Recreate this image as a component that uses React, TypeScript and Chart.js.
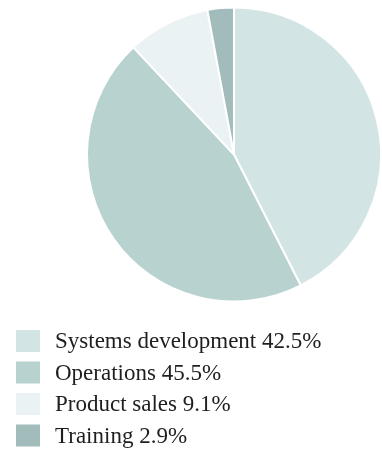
import React, { useEffect, useRef } from "react";
import { Chart, registerables } from "chart.js";

Chart.register(...registerables);

const categories = ["Systems development", "Operations", "Product sales", "Training"];
const shares = [42.5, 45.5, 9.1, 2.9];
const sliceColors = ["#d2e4e3", "#b8d2cf", "#ebf2f3", "#a2bcbc"];

const legendPlugin = {
  id: "sideLegend",
  afterDraw(chart: any) {
    const ctx = chart.ctx;
    const labels: string[] = chart.data.labels;
    const ds = chart.data.datasets[0];
    ctx.save();
    ctx.font = '23px "Liberation Serif", "Times New Roman", serif';
    ctx.textBaseline = "middle";
    ctx.textAlign = "left";
    labels.forEach((lab, i) => {
      const cy = 341 + i * 31.5;
      ctx.fillStyle = ds.backgroundColor[i];
      ctx.fillRect(16, cy - 11, 24, 22);
      ctx.fillStyle = "#1e1e1e";
      ctx.fillText(`${lab} ${ds.data[i].toFixed(1)}%`, 55, cy + 1);
    });
    ctx.restore();
  },
};

export default function App() {
  const ref = useRef<HTMLCanvasElement | null>(null);
  useEffect(() => {
    if (!ref.current) return;
    const chart = new Chart(ref.current, {
      type: "pie",
      data: {
        labels: categories,
        datasets: [
          {
            data: shares,
            backgroundColor: sliceColors,
            borderColor: "#ffffff",
            borderWidth: 2,
          },
        ],
      },
      options: {
        responsive: false,
        animation: false,
        layout: { padding: { left: 86, top: 5, right: -2, bottom: 149 } },
        plugins: {
          legend: { display: false },
          tooltip: { enabled: false },
        },
      },
      plugins: [legendPlugin],
    });
    return () => chart.destroy();
  }, []);
  return (
    <div style={{ position: "absolute", left: 0, top: 0, width: 382, height: 453, background: "#fff" }}>
      <canvas ref={ref} width={382} height={453} />
    </div>
  );
}
